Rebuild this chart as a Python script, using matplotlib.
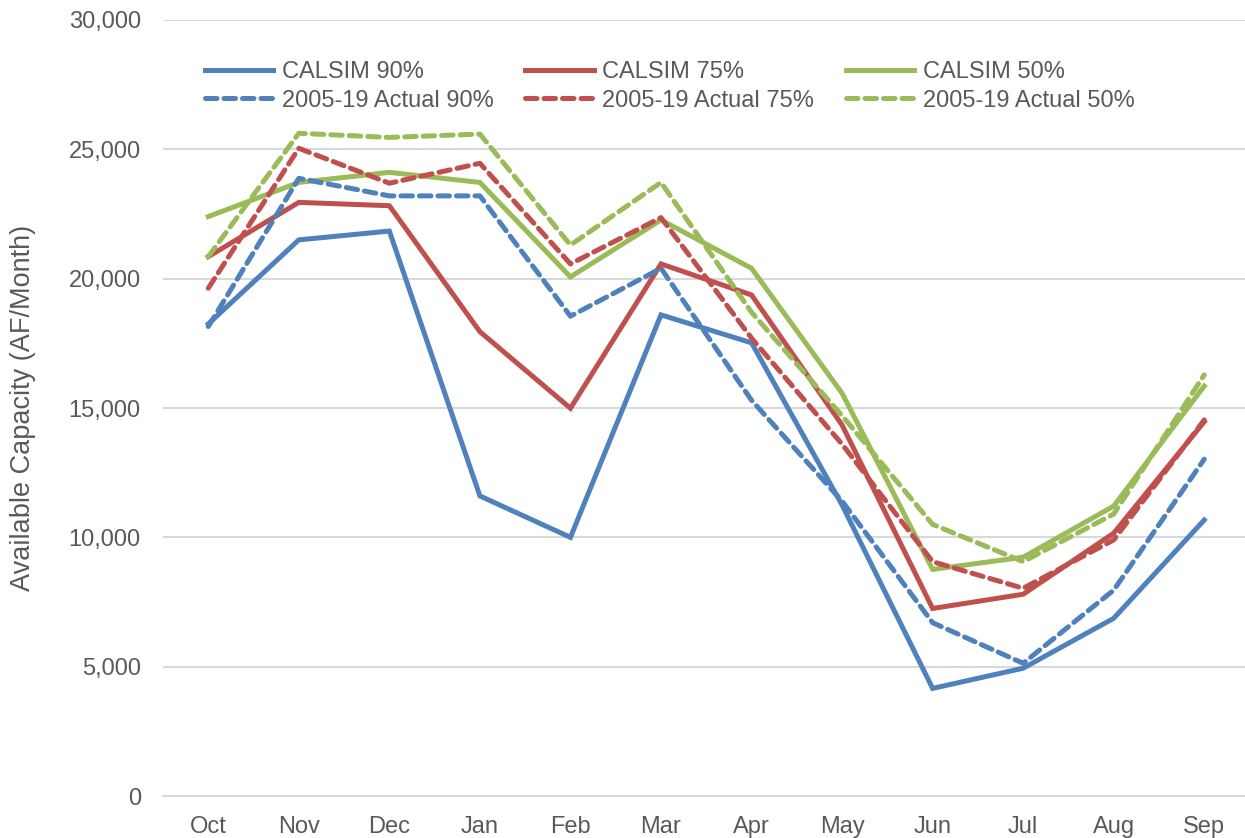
import matplotlib
matplotlib.use("Agg")
import matplotlib.pyplot as plt
from matplotlib.ticker import FuncFormatter

plt.rcParams["font.family"] = ["Liberation Sans", "DejaVu Sans"]

months = ["Oct", "Nov", "Dec", "Jan", "Feb", "Mar", "Apr", "May", "Jun", "Jul", "Aug", "Sep"]

calsim_90 = [18250, 21500, 21840, 11600, 10000, 18600, 17520, 11250, 4160, 4940, 6870, 10670]
calsim_75 = [20850, 22950, 22820, 17950, 14990, 20570, 19370, 14340, 7250, 7800, 10160, 14470]
calsim_50 = [22400, 23720, 24110, 23720, 20070, 22270, 20400, 15570, 8760, 9230, 11210, 15850]
actual_90 = [18150, 23880, 23200, 23200, 18550, 20400, 15300, 11400, 6700, 5130, 7960, 13020]
actual_75 = [19630, 25040, 23690, 24460, 20570, 22360, 17700, 13600, 9060, 8030, 9900, 14540]
actual_50 = [20850, 25620, 25460, 25590, 21300, 23720, 18700, 14700, 10500, 9060, 10900, 16280]

BLUE = "#4F81BD"
RED = "#C0504D"
GREEN = "#9BBB59"
TEXT = "#595959"
GRID = "#D9D9D9"

fig = plt.figure(figsize=(12.45, 8.38), dpi=100)
ax = fig.add_axes([163 / 1245, 42 / 838, 1082 / 1245, 776 / 838])

x = list(range(len(months)))
lw = 3.6
dash = (0, (2.3, 1.4))

series = [
    (calsim_90, BLUE, "-", "CALSIM 90%"),
    (actual_90, BLUE, dash, "2005-19 Actual 90%"),
    (calsim_75, RED, "-", "CALSIM 75%"),
    (actual_75, RED, dash, "2005-19 Actual 75%"),
    (calsim_50, GREEN, "-", "CALSIM 50%"),
    (actual_50, GREEN, dash, "2005-19 Actual 50%"),
]

# solid lines underneath, dashed ones on top
for vals, color, ls, label in series:
    ax.plot(x, vals, color=color, linestyle=ls, linewidth=lw, label=label,
            solid_joinstyle="miter", dash_capstyle="round", zorder=3 if ls != "-" else 2)

ax.set_xlim(-0.5, 11.45)
ax.set_ylim(0, 30000)
ax.set_yticks(range(0, 30001, 5000))
ax.yaxis.set_major_formatter(FuncFormatter(lambda v, p: f"{int(v):,}"))
ax.set_xticks(x)
ax.set_xticklabels(months)

ax.grid(axis="y", color=GRID, linewidth=1.5, zorder=0)
ax.set_axisbelow(True)
for side in ["top", "right", "left"]:
    ax.spines[side].set_visible(False)
ax.spines["bottom"].set_color(GRID)
ax.spines["bottom"].set_linewidth(1.5)

ax.tick_params(axis="both", length=0, labelsize=17, labelcolor=TEXT)
ax.tick_params(axis="y", pad=16)
ax.tick_params(axis="x", pad=14.5)

ax.set_ylabel("Available Capacity (AF/Month)", fontsize=19.5, color=TEXT)
ax.yaxis.set_label_coords(-0.117, 0.5)

ax.legend(
    loc="upper left",
    bbox_to_anchor=(205 / 1245, 1 - 61 / 838),
    bbox_transform=fig.transFigure,
    ncol=3,
    frameon=False,
    fontsize=17,
    labelcolor=TEXT,
    handlelength=2.9,
    handletextpad=0.35,
    columnspacing=1.35,
    labelspacing=0.28,
    borderpad=0,
    borderaxespad=0,
)

fig.savefig("out.png", dpi=100)
